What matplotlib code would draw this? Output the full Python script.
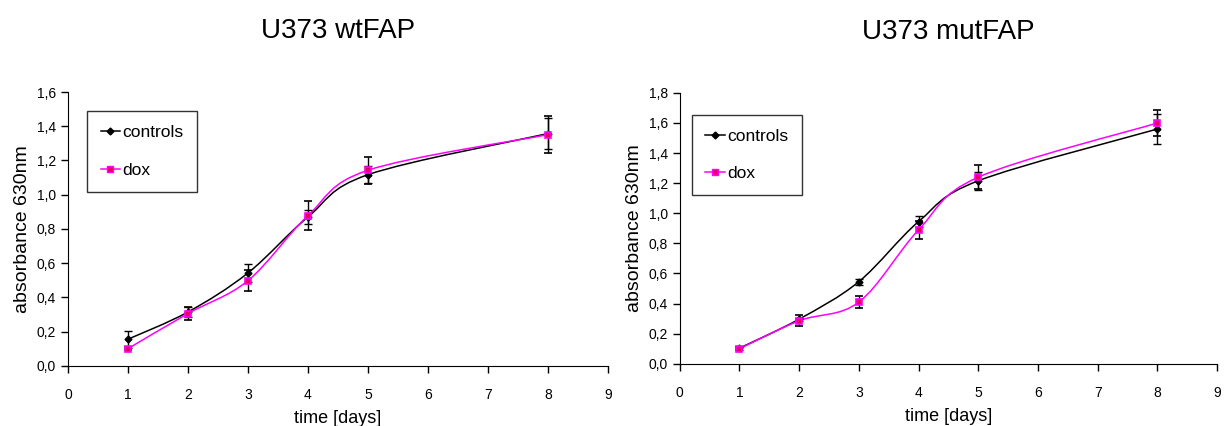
import matplotlib
matplotlib.use("Agg")
import matplotlib.pyplot as plt
from matplotlib.path import Path
from matplotlib.patches import PathPatch
from matplotlib.lines import Line2D
from matplotlib.ticker import FuncFormatter, MultipleLocator

plt.rcParams['font.family'] = ['Liberation Sans', 'DejaVu Sans']

# data
days = [1, 2, 3, 4, 5, 8]

wt_controls = [0.156, 0.315, 0.543, 0.870, 1.117, 1.357]
wt_controls_err = [0.05, 0.03, 0.05, 0.04, 0.05, 0.09]
wt_dox = [0.101, 0.306, 0.498, 0.878, 1.143, 1.351]
wt_dox_err = [0.01, 0.04, 0.06, 0.085, 0.08, 0.11]

mut_controls = [0.104, 0.297, 0.546, 0.945, 1.216, 1.560]
mut_controls_err = [0.01, 0.01, 0.02, 0.035, 0.06, 0.10]
mut_dox = [0.100, 0.286, 0.410, 0.890, 1.240, 1.600]
mut_dox_err = [0.01, 0.035, 0.04, 0.06, 0.08, 0.085]

ctrl_color = 'black'
dox_color = '#ff00ff'


def smooth_path(x, y):
    # Excel-like smoothed line: Catmull-Rom segments as cubic Bezier curves
    verts = [(x[0], y[0])]
    codes = [Path.MOVETO]
    n = len(x)
    for i in range(n - 1):
        x0, y0 = (x[i - 1], y[i - 1]) if i > 0 else (x[i], y[i])
        x3, y3 = (x[i + 2], y[i + 2]) if i + 2 < n else (x[i + 1], y[i + 1])
        c1 = (x[i] + (x[i + 1] - x0) / 6, y[i] + (y[i + 1] - y0) / 6)
        c2 = (x[i + 1] - (x3 - x[i]) / 6, y[i + 1] - (y3 - y[i]) / 6)
        verts += [c1, c2, (x[i + 1], y[i + 1])]
        codes += [Path.CURVE4] * 3
    return Path(verts, codes)


def draw_panel(ax, title, ctrl, ctrl_err, dox, dox_err, ymax, leg_anchor):
    ax.add_patch(PathPatch(smooth_path(days, ctrl), fill=False, edgecolor=ctrl_color, lw=1.1, zorder=2))
    ax.add_patch(PathPatch(smooth_path(days, dox), fill=False, edgecolor=dox_color, lw=1.1, zorder=2))
    ax.errorbar(days, ctrl, yerr=ctrl_err, fmt='D', ms=3.5, color=ctrl_color,
                ecolor='black', elinewidth=1, capsize=3, capthick=1, zorder=3)
    ax.errorbar(days, dox, yerr=dox_err, fmt='s', ms=5, mfc='#e8005a', mec=dox_color, mew=1.2,
                ecolor='black', elinewidth=1, capsize=3, capthick=1, zorder=3)

    ax.set_xlim(0, 9)
    ax.set_ylim(0, ymax)
    ax.xaxis.set_major_locator(MultipleLocator(1))
    ax.yaxis.set_major_locator(MultipleLocator(0.2))
    ax.yaxis.set_major_formatter(FuncFormatter(lambda v, p: f"{v:.1f}".replace('.', ',')))
    ax.tick_params(labelsize=10, length=5, width=1, direction='out')
    ax.xaxis.set_tick_params(pad=11)
    for s in ['top', 'right']:
        ax.spines[s].set_visible(False)
    ax.set_xlabel('time [days]', fontsize=13, labelpad=5.5)
    ax.set_ylabel('absorbance 630nm', fontsize=14, labelpad=4)
    ax.set_title(title, fontsize=20, pad=39)

    handles = [
        Line2D([], [], color=ctrl_color, lw=1.1, marker='D', ms=3.5),
        Line2D([], [], color=dox_color, lw=1.1, marker='s', ms=5, mfc='#e8005a', mec=dox_color),
    ]
    leg = ax.legend(handles, ['controls', 'dox'], loc='upper left', bbox_to_anchor=leg_anchor,
                    borderaxespad=0, fontsize=12.5, frameon=True, fancybox=False,
                    labelspacing=1.3, handlelength=1.1, handletextpad=0.15, borderpad=0.8)
    leg.get_frame().set_edgecolor('black')
    leg.get_frame().set_linewidth(1)


fig = plt.figure(figsize=(12.27, 4.26), dpi=100)
ax1 = fig.add_axes([0.0554, 0.141, 0.44, 0.643])
ax2 = fig.add_axes([0.554, 0.146, 0.438, 0.636])

draw_panel(ax1, 'U373 wtFAP', wt_controls, wt_controls_err, wt_dox, wt_dox_err, 1.6, (0.035, 0.93))
draw_panel(ax2, 'U373 mutFAP', mut_controls, mut_controls_err, mut_dox, mut_dox_err, 1.8, (0.022, 0.92))

fig.savefig('out.png', dpi=100)
